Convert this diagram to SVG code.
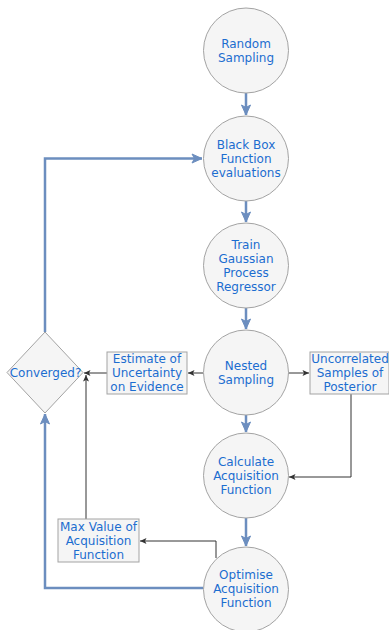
<svg xmlns="http://www.w3.org/2000/svg" width="389" height="630" viewBox="0 0 389 630">
  <style>
    .node { fill: #f5f5f5; stroke: #a3a3a3; stroke-width: 1; }
    .lbl { font-family: "DejaVu Sans", Verdana, sans-serif; font-size: 12px; fill: #1c6dd0; text-anchor: middle; dominant-baseline: central; }
    .flow { fill: none; stroke: #6c8ebf; stroke-width: 2.5; }
    .thin { fill: none; stroke: #333333; stroke-width: 1; }
  </style>
  <defs>
    <marker id="blueHead" markerUnits="userSpaceOnUse" markerWidth="12" markerHeight="12" viewBox="0 0 12 12" refX="11" refY="6" orient="auto">
      <path d="M1,1.5 L11,6 L1,10.5 L3.5,6 Z" fill="#6c8ebf" stroke="#6c8ebf" stroke-width="1"/>
    </marker>
    <marker id="thinHead" markerUnits="userSpaceOnUse" markerWidth="8" markerHeight="8" viewBox="0 0 8 8" refX="7" refY="4" orient="auto">
      <path d="M0.5,1 L7,4 L0.5,7 L2,4 Z" fill="#333333"/>
    </marker>
  </defs>

  <!-- connectors -->
  <g id="connectors">
    <line class="flow" x1="246" y1="93" x2="246" y2="115" marker-end="url(#blueHead)"/>
    <line class="flow" x1="246" y1="201" x2="246" y2="222" marker-end="url(#blueHead)"/>
    <line class="flow" x1="246" y1="308" x2="246" y2="329" marker-end="url(#blueHead)"/>
    <line class="flow" x1="246" y1="415" x2="246" y2="432" marker-end="url(#blueHead)"/>
    <line class="flow" x1="246" y1="518" x2="246" y2="546" marker-end="url(#blueHead)"/>
    <polyline class="flow" points="45,332 45,158.5 202,158.5" marker-end="url(#blueHead)"/>
    <polyline class="flow" points="203,588 45,588 45,414" marker-end="url(#blueHead)"/>
    <line class="thin" x1="203" y1="373" x2="188" y2="373" marker-end="url(#thinHead)"/>
    <line class="thin" x1="107" y1="373" x2="84" y2="373" marker-end="url(#thinHead)"/>
    <line class="thin" x1="86" y1="519" x2="86" y2="375" marker-end="url(#thinHead)"/>
    <line class="thin" x1="288" y1="373" x2="309" y2="373" marker-end="url(#thinHead)"/>
    <polyline class="thin" points="351,394 351,477 289,477" marker-end="url(#thinHead)"/>
    <polyline class="thin" points="216,558 216,541 140,541" marker-end="url(#thinHead)"/>
  </g>

  <!-- process steps -->
  <g id="random-sampling">
    <circle class="node" cx="246" cy="50.5" r="42.5"/>
    <text class="lbl" x="246" y="44">Random</text>
    <text class="lbl" x="246" y="58">Sampling</text>
  </g>
  <g id="black-box">
    <circle class="node" cx="246" cy="158.5" r="42.5"/>
    <text class="lbl" x="246" y="145">Black Box</text>
    <text class="lbl" x="246" y="159">Function</text>
    <text class="lbl" x="246" y="173">evaluations</text>
  </g>
  <g id="train-gp">
    <circle class="node" cx="246" cy="265.5" r="42.5"/>
    <text class="lbl" x="246" y="245">Train</text>
    <text class="lbl" x="246" y="259">Gaussian</text>
    <text class="lbl" x="246" y="273">Process</text>
    <text class="lbl" x="246" y="287">Regressor</text>
  </g>
  <g id="nested-sampling">
    <circle class="node" cx="246" cy="372.5" r="42.5"/>
    <text class="lbl" x="246" y="366">Nested</text>
    <text class="lbl" x="246" y="380">Sampling</text>
  </g>
  <g id="calculate-acquisition">
    <circle class="node" cx="246" cy="475.5" r="42.5"/>
    <text class="lbl" x="246" y="462">Calculate</text>
    <text class="lbl" x="246" y="476">Acquisition</text>
    <text class="lbl" x="246" y="490">Function</text>
  </g>
  <g id="optimise-acquisition">
    <circle class="node" cx="246" cy="589.5" r="42.5"/>
    <text class="lbl" x="246" y="575">Optimise</text>
    <text class="lbl" x="246" y="589">Acquisition</text>
    <text class="lbl" x="246" y="603">Function</text>
  </g>

  <!-- decision -->
  <g id="converged">
    <polygon class="node" points="45,332 83,372.5 45,413 7,372.5"/>
    <text class="lbl" x="45.5" y="373">Converged?</text>
  </g>

  <!-- outputs -->
  <g id="uncertainty-estimate">
    <rect class="node" x="107" y="352" width="80" height="42"/>
    <text class="lbl" x="147" y="359">Estimate of</text>
    <text class="lbl" x="147" y="373">Uncertainty</text>
    <text class="lbl" x="147" y="387">on Evidence</text>
  </g>
  <g id="posterior-samples">
    <rect class="node" x="310" y="352" width="79" height="42"/>
    <text class="lbl" x="350" y="359">Uncorrelated</text>
    <text class="lbl" x="350" y="373">Samples of</text>
    <text class="lbl" x="350" y="387">Posterior</text>
  </g>
  <g id="max-acquisition">
    <rect class="node" x="58" y="519" width="81" height="43"/>
    <text class="lbl" x="98.5" y="527">Max Value of</text>
    <text class="lbl" x="98.5" y="541">Acquisition</text>
    <text class="lbl" x="98.5" y="555">Function</text>
  </g>
</svg>
